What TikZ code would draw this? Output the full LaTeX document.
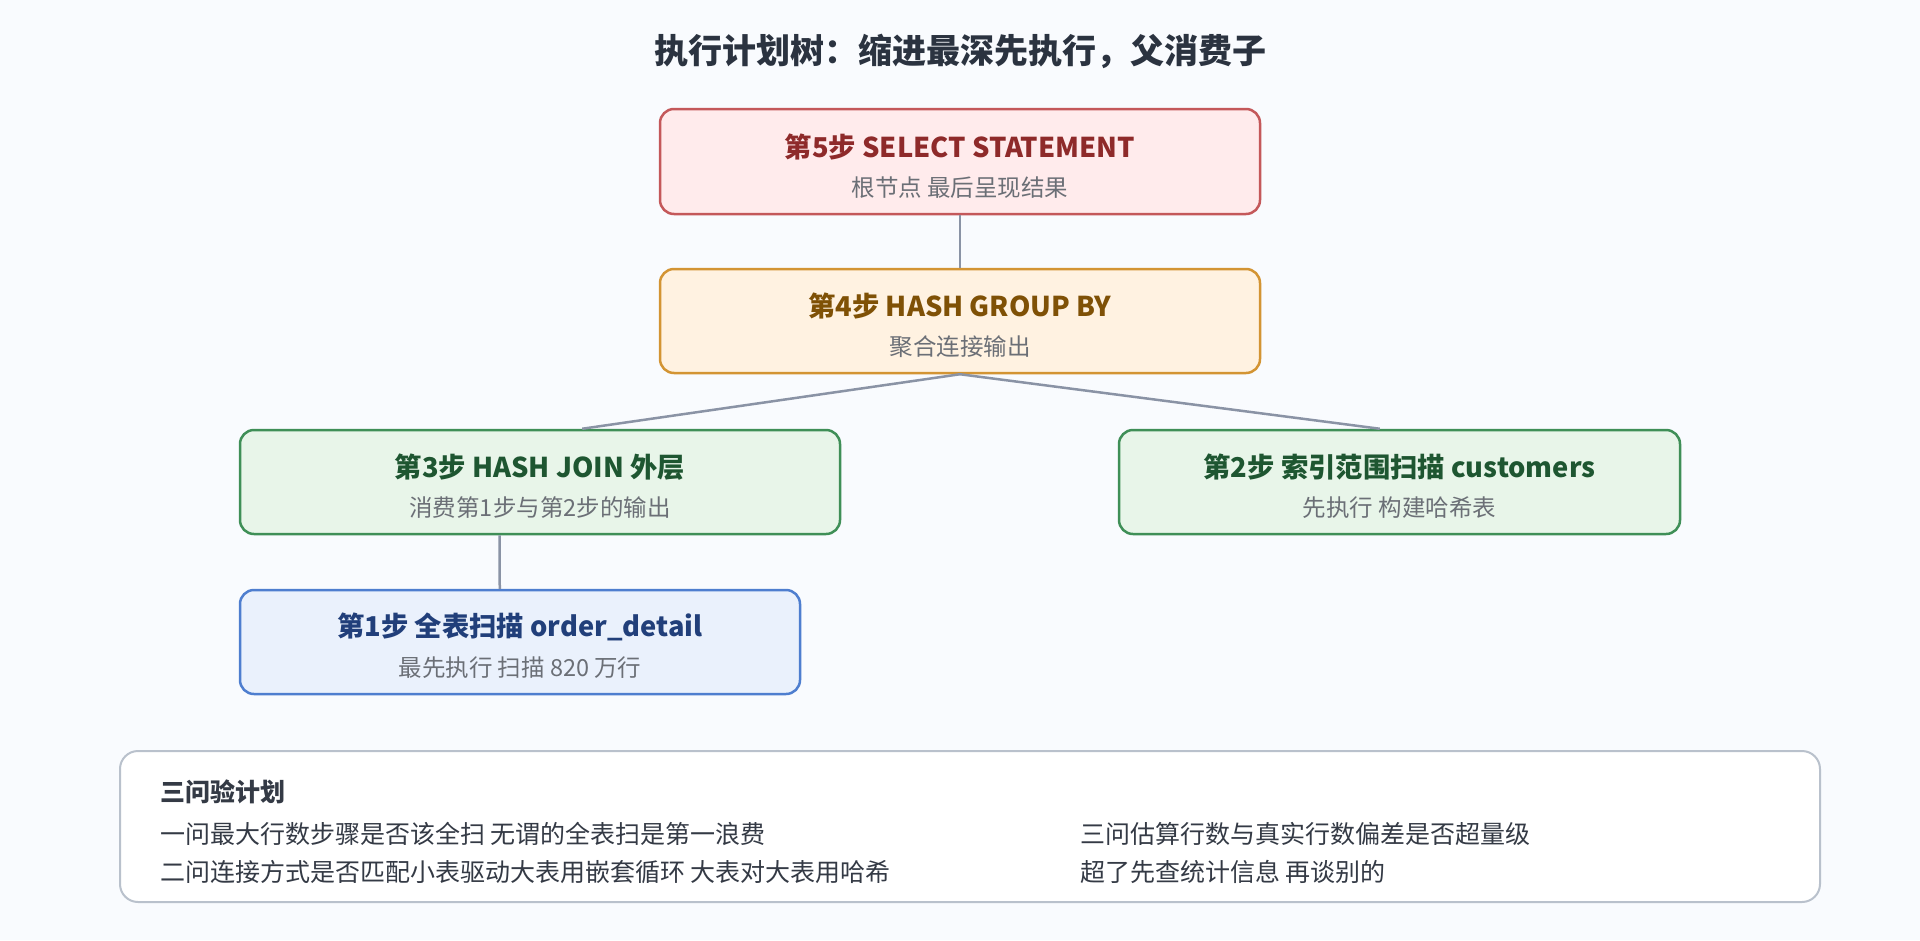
\documentclass[tikz,border=0pt]{standalone}
\usepackage{fontspec}
\setmainfont{Noto Sans CJK SC}
\usetikzlibrary{calc}
\definecolor{bgc}{HTML}{F9FBFE}
\definecolor{titc}{HTML}{2B3340}
\definecolor{subc}{HTML}{6B6F76}
\definecolor{linec}{HTML}{8A93A5}
\definecolor{rfill}{HTML}{FFEBEC}
\definecolor{rdraw}{HTML}{C4585A}
\definecolor{rtext}{HTML}{8E2A2A}
\definecolor{ofill}{HTML}{FFF2E1}
\definecolor{odraw}{HTML}{D39433}
\definecolor{otext}{HTML}{7F5106}
\definecolor{gfill}{HTML}{E8F5E9}
\definecolor{gdraw}{HTML}{3F8F57}
\definecolor{gtext}{HTML}{1E5631}
\definecolor{bfill}{HTML}{EAF1FC}
\definecolor{bdraw}{HTML}{4E7ECF}
\definecolor{btext}{HTML}{213F7A}
\definecolor{ndraw}{HTML}{B9C1CC}
\definecolor{ntext}{HTML}{343A45}
\tikzset{
  box/.style={draw, line width=2.5pt, rounded corners=14pt, rectangle, inner sep=0pt},
  boxr/.style={box, fill=rfill, draw=rdraw},
  boxo/.style={box, fill=ofill, draw=odraw},
  boxg/.style={box, fill=gfill, draw=gdraw},
  boxb/.style={box, fill=bfill, draw=bdraw},
  hd/.style={inner sep=0pt, font=\fontsize{27.3}{31}\selectfont\bfseries},
  sb/.style={inner sep=0pt, text=subc, font=\fontsize{23.5}{27}\selectfont},
  conn/.style={draw=linec, line width=2.5pt},
  nt/.style={inner sep=0pt, anchor=west, text=ntext, font=\fontsize{25}{29}\selectfont},
}
\begin{document}
\begin{tikzpicture}[x=1pt,y=-1pt]
\useasboundingbox (0,0) rectangle (1920,940);
\fill[bgc] (0,0) rectangle (1920,940);
\node[inner sep=0pt, text=titc, font=\fontsize{34}{39}\selectfont\bfseries] (title) at (960,51) {执行计划树：缩进最深先执行，父消费子};

\node[boxr, minimum width=600pt, minimum height=105pt] (b5) at (960,161.5) {};
\node[boxo, minimum width=600pt, minimum height=104pt] (b4) at (960,321) {};
\node[boxg, minimum width=600pt, minimum height=104pt] (b3) at (540,482) {};
\node[boxg, minimum width=561pt, minimum height=104pt] (b2) at (1399.5,482) {};
\node[boxb, minimum width=560pt, minimum height=104pt] (b1) at (520,642) {};

\coordinate (b3top) at ($(b3.north west)!0.57!(b3.north east)$);
\coordinate (b2top) at ($(b2.north west)!0.465!(b2.north east)$);
\coordinate (b3bot) at ($(b3.south west)!0.433!(b3.south east)$);
\coordinate (b1top) at ($(b1.north west)!0.464!(b1.north east)$);
\draw[conn] (b5.south) -- (b4.north);
\draw[conn] (b4.south) -- (b3top);
\draw[conn] (b4.south) -- (b2top);
\draw[conn] (b3bot) -- (b1top);

\node[hd, text=rtext] (h5) at ($(b5.center)+(0,-15)$) {第5步 SELECT STATEMENT};
\node[sb] (s5) at ($(b5.center)+(0,26)$) {根节点 最后呈现结果};
\node[hd, text=otext] (h4) at ($(b4.center)+(0,-15)$) {第4步 HASH GROUP BY};
\node[sb] (s4) at ($(b4.center)+(0,26)$) {聚合连接输出};
\node[hd, text=gtext] (h3) at ($(b3.center)+(0,-15)$) {第3步 HASH JOIN 外层};
\node[sb] (s3) at ($(b3.center)+(0,26)$) {消费第1步与第2步的输出};
\node[hd, text=gtext] (h2) at ($(b2.center)+(0,-15)$) {第2步 索引范围扫描 customers};
\node[sb] (s2) at ($(b2.center)+(0,26)$) {先执行 构建哈希表};
\node[hd, text=btext] (h1) at ($(b1.center)+(0,-15)$) {第1步 全表扫描 order\_detail};
\node[sb] (s1) at ($(b1.center)+(0,26)$) {最先执行 扫描 820 万行};

\draw[fill=white, draw=ndraw, line width=2pt, rounded corners=18pt] (120,751) rectangle (1820,902);
\node[nt, font=\fontsize{25}{29}\selectfont\bfseries] (nh) at (160,792) {三问验计划};
\node[nt] (n1) at (160,834) {一问最大行数步骤是否该全扫 无谓的全表扫是第一浪费};
\node[nt] (n2) at (160,872) {二问连接方式是否匹配小表驱动大表用嵌套循环 大表对大表用哈希};
\node[nt] (n3) at (1080,834) {三问估算行数与真实行数偏差是否超量级};
\node[nt] (n4) at (1080,872) {超了先查统计信息 再谈别的};
\end{tikzpicture}
\end{document}
